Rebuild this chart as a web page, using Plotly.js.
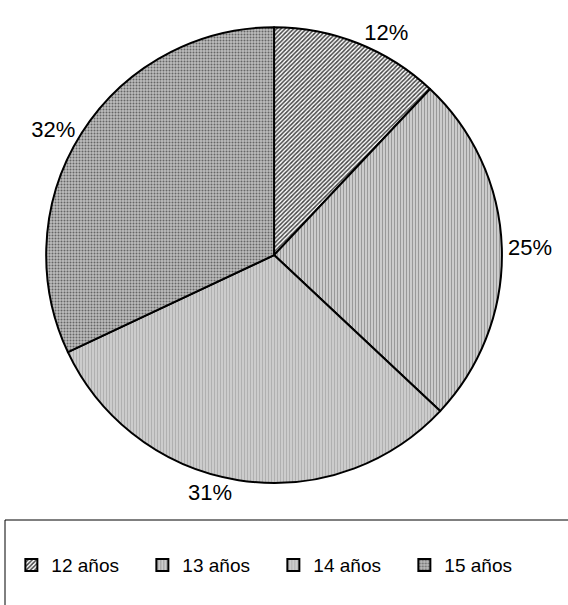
<!DOCTYPE html>
<html><head><meta charset="utf-8">
<script src="https://cdn.plot.ly/plotly-3.0.1.min.js"></script>
<style>body{margin:0;padding:0;background:#fff}#chart{width:568px;height:605px}</style>
</head><body><div id="chart"></div>
<script>
const categories = ["12 años", "13 años", "14 años", "15 años"];
const percentages = [12, 25, 31, 32];

const trace = {
  type: "pie",
  labels: categories,
  values: percentages,
  sort: false,
  direction: "clockwise",
  rotation: 0,
  textinfo: "percent",
  texttemplate: "%{value}%",
  textposition: "outside",
  outsidetextfont: {family: "Liberation Sans, Arial, sans-serif", size: 22, color: "#000"},
  hoverinfo: "label+percent",
  domain: {x: [0.081, 0.884], y: [0.2017, 0.955]},
  marker: {
    colors: ["#ffffff", "#ffffff", "#cccccc", "#bbbbbb"],
    line: {color: "#000", width: 2},
    pattern: {
      shape: ["/", "|", "|", "."],
      fgcolor: ["#444444", "#999999", "#b0b0b0", "#666666"],
      bgcolor: ["#ffffff", "#ffffff", "#cfcfcf", "#bdbdbd"],
      size: [3, 3, 3, 3],
      solidity: [0.5, 0.67, 0.4, 0.35]
    }
  }
};

const layout = {
  width: 568, height: 605,
  margin: {l: 0, r: 0, t: 0, b: 0},
  paper_bgcolor: "#fff",
  showlegend: true,
  legend: {
    orientation: "h",
    x: 0.02, xanchor: "left",
    y: 0.066, yanchor: "middle",
    font: {family: "Liberation Sans, Arial, sans-serif", size: 19, color: "#000"},
    entrywidth: 86,
    itemwidth: 30,
    bgcolor: "rgba(0,0,0,0)"
  },
  shapes: [{
    type: "rect", xref: "paper", yref: "paper",
    x0: 5/568, x1: 1.01, y0: -0.01, y1: 1 - 520/605,
    line: {color: "#000", width: 1}, fillcolor: "rgba(0,0,0,0)"
  }]
};

Plotly.newPlot("chart", [trace], layout, {displayModeBar: false, staticPlot: true});
</script></body></html>
